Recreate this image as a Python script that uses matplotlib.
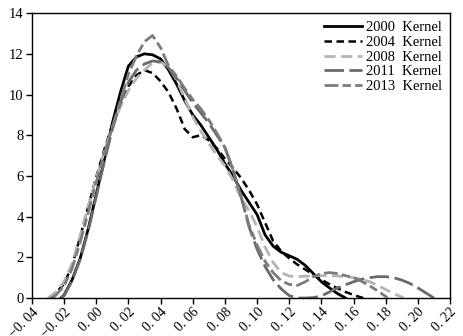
import matplotlib
matplotlib.use("Agg")
import matplotlib.pyplot as plt
from matplotlib.ticker import FuncFormatter

plt.rcParams['font.family'] = ['Liberation Serif', 'DejaVu Serif']

# Kernel density estimates by year
x2000 = [-0.022, -0.02, -0.015, -0.01, -0.005, 0.0, 0.005, 0.01, 0.015, 0.02, 0.025,
         0.03, 0.035, 0.04, 0.045, 0.05, 0.055, 0.06, 0.065, 0.07, 0.075, 0.08, 0.085,
         0.09, 0.095, 0.1, 0.105, 0.11, 0.115, 0.12, 0.125, 0.13, 0.135, 0.14, 0.145,
         0.15, 0.155]
y2000 = [0.0, 0.15, 0.9, 1.95, 3.4, 5.1, 6.8, 8.6, 10.1, 11.4, 11.85,
         12.0, 11.95, 11.75, 11.2, 10.5, 9.7, 9.0, 8.5, 7.9, 7.3, 6.6, 6.0,
         5.3, 4.7, 4.1, 3.1, 2.55, 2.25, 2.08, 1.9, 1.6, 1.2, 0.8, 0.5,
         0.22, 0.0]

x2004 = [-0.029, -0.025, -0.02, -0.015, -0.01, -0.005, 0.0, 0.005, 0.01, 0.015, 0.02,
         0.025, 0.03, 0.035, 0.04, 0.045, 0.05, 0.055, 0.06, 0.065, 0.07, 0.075, 0.08,
         0.085, 0.09, 0.095, 0.1, 0.105, 0.11, 0.115, 0.12, 0.125, 0.13, 0.135, 0.14,
         0.145, 0.15, 0.155, 0.16, 0.166]
y2004 = [0.0, 0.25, 0.7, 1.6, 3.0, 4.5, 5.95, 7.3, 8.5, 9.5, 10.4,
         10.95, 11.2, 11.05, 10.65, 10.1, 9.3, 8.3, 7.9, 8.0, 7.75, 7.35, 6.85,
         6.4, 5.9, 5.3, 4.6, 3.7, 2.8, 2.3, 1.95, 1.65, 1.4, 1.15, 0.9,
         0.68, 0.48, 0.3, 0.15, 0.0]

x2008 = [-0.03, -0.025, -0.02, -0.015, -0.01, -0.005, 0.0, 0.005, 0.01, 0.015, 0.02,
         0.025, 0.03, 0.035, 0.04, 0.045, 0.05, 0.055, 0.06, 0.065, 0.07, 0.075, 0.08,
         0.085, 0.09, 0.095, 0.1, 0.105, 0.11, 0.115, 0.12, 0.125, 0.13, 0.135, 0.14,
         0.145, 0.15, 0.155, 0.16, 0.165, 0.17, 0.175, 0.18, 0.185, 0.19, 0.191]
y2008 = [0.0, 0.3, 0.8, 1.7, 3.05, 4.5, 5.9, 7.2, 8.4, 9.4, 10.2,
         10.8, 11.2, 11.55, 11.6, 11.35, 10.7, 9.8, 8.9, 8.2, 7.6, 7.0, 6.5,
         5.8, 4.9, 4.3, 3.5, 2.5, 1.75, 1.25, 1.08, 1.05, 1.07, 1.1, 1.1,
         1.1, 1.08, 1.05, 1.0, 0.92, 0.8, 0.62, 0.42, 0.22, 0.05, 0.0]

x2011 = [-0.022, -0.02, -0.015, -0.01, -0.005, 0.0, 0.005, 0.01, 0.015, 0.02, 0.025,
         0.03, 0.035, 0.04, 0.045, 0.05, 0.055, 0.06, 0.065, 0.07, 0.075, 0.08, 0.085,
         0.09, 0.095, 0.1, 0.105, 0.11, 0.115, 0.12, 0.125, 0.13, 0.135, 0.14, 0.145,
         0.15, 0.155, 0.16, 0.165, 0.17, 0.175, 0.18, 0.185, 0.19, 0.195, 0.2, 0.205, 0.21]
y2011 = [0.0, 0.12, 0.85, 1.9, 3.3, 5.0, 6.7, 8.3, 9.6, 10.6, 11.2,
         11.5, 11.65, 11.6, 11.3, 10.8, 10.2, 9.6, 9.1, 8.6, 8.0, 7.4, 6.3,
         5.0, 3.5, 2.4, 1.55, 0.9, 0.45, 0.12, 0.0, 0.0, 0.02, 0.1, 0.3,
         0.5, 0.65, 0.8, 0.92, 1.0, 1.05, 1.05, 1.0, 0.88, 0.72, 0.5, 0.25, 0.0]

x2013 = [-0.027, -0.025, -0.02, -0.015, -0.01, -0.005, 0.0, 0.005, 0.01, 0.015, 0.02,
         0.025, 0.03, 0.035, 0.04, 0.045, 0.05, 0.055, 0.06, 0.065, 0.07, 0.075, 0.08,
         0.085, 0.09, 0.095, 0.1, 0.105, 0.11, 0.115, 0.12, 0.125, 0.13, 0.135, 0.14,
         0.145, 0.15, 0.155, 0.16, 0.165, 0.17, 0.175, 0.18, 0.181]
y2013 = [0.0, 0.15, 0.6, 1.45, 2.75, 4.2, 5.7, 7.1, 8.4, 9.7, 11.0,
         11.9, 12.6, 12.9, 12.3, 11.4, 10.9, 10.3, 9.75, 9.3, 8.75, 8.1, 7.4,
         6.3, 5.0, 3.6, 2.6, 1.8, 1.25, 0.85, 0.67, 0.62, 0.8, 1.05, 1.2,
         1.25, 1.2, 1.1, 1.0, 0.82, 0.6, 0.35, 0.08, 0.0]

labels = ["2000  Kernel", "2004  Kernel", "2008  Kernel", "2011  Kernel", "2013  Kernel"]
x_ticks = [-0.04, -0.02, 0.00, 0.02, 0.04, 0.06, 0.08, 0.10, 0.12, 0.14, 0.16, 0.18, 0.20, 0.22]
y_ticks = [0, 2, 4, 6, 8, 10, 12, 14]

fig = plt.figure(figsize=(4.63, 3.36), dpi=100)
ax = fig.add_axes([0.069, 0.113, 0.903, 0.848])

ax.plot(x2000, y2000, color='black', lw=2.0, linestyle='-', label=labels[0])
ax.plot(x2004, y2004, color='black', lw=1.8, linestyle=(0, (3, 1.8)), label=labels[1])
ax.plot(x2008, y2008, color='#b4b4b4', lw=2.0, linestyle=(0, (4, 2)), label=labels[2])
ax.plot(x2011, y2011, color='#6a6a6a', lw=2.0, linestyle=(0, (7, 2)), label=labels[3])
ax.plot(x2013, y2013, color='#7c7c7c', lw=2.0, linestyle=(0, (5, 1.5, 3, 1.5)), label=labels[4])

ax.set_xlim(-0.04, 0.22)
ax.set_ylim(0, 14)
ax.set_xticks(x_ticks)
ax.set_yticks(y_ticks)


def fmt_x(v, pos):
    s = f"{abs(v):.2f}".replace(".", ". ")
    return ("\u2212" + s) if v < -1e-9 else s


ax.xaxis.set_major_formatter(FuncFormatter(fmt_x))
ax.tick_params(axis='y', direction='out', length=4, width=1, labelsize=10.5,
               colors='black', pad=2)
ax.tick_params(axis='x', direction='out', length=4, width=1, labelsize=10,
               colors='black', pad=1.5)
for lbl in ax.get_xticklabels():
    lbl.set_rotation(45)
    lbl.set_ha('right')
    lbl.set_va('top')
    lbl.set_rotation_mode('anchor')

for sp in ax.spines.values():
    sp.set_color('black')
    sp.set_linewidth(1.0)

leg = ax.legend(loc='upper right', frameon=False, fontsize=10.5, handlelength=2.6,
                handletextpad=0.3, labelspacing=0.1, borderaxespad=0.15)

fig.savefig('out.png', dpi=100)
